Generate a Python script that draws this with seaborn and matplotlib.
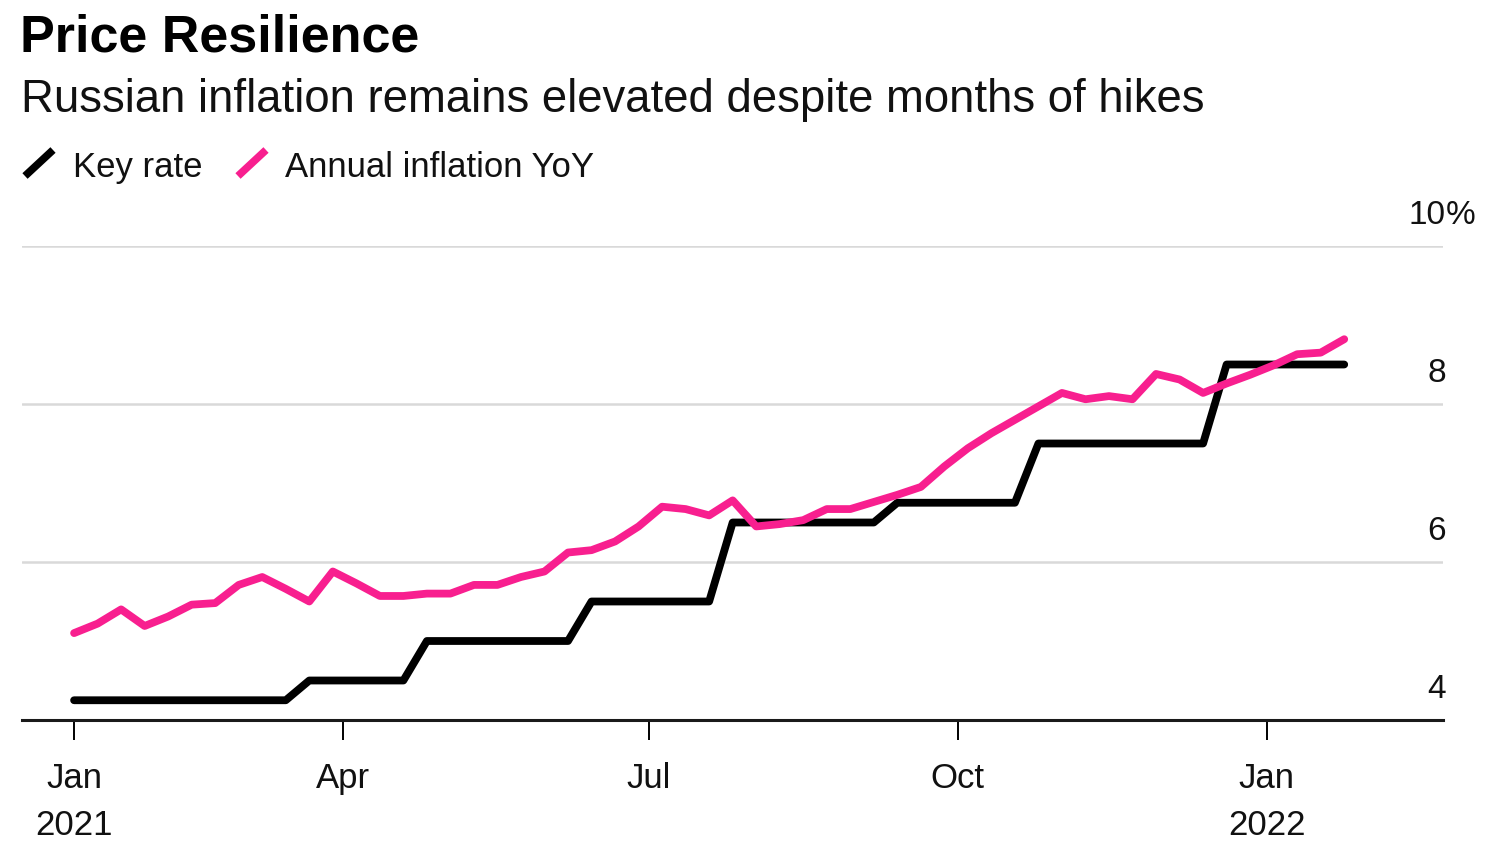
import pandas as pd, numpy as np
import matplotlib
matplotlib.use("Agg")
import matplotlib.pyplot as plt
import matplotlib.transforms as mtransforms
from matplotlib.lines import Line2D
import seaborn as sns

# weekly observations, Jan 2021 -> Jan 2022
dates = pd.date_range("2021-01-11", periods=55, freq="7D")

key_rate = ([4.25] * 10 + [4.5] * 5 + [5.0] * 7 + [5.5] * 6 +
            [6.5] * 7 + [6.75] * 6 + [7.5] * 8 + [8.5] * 6)

inflation = [5.10, 5.22, 5.40, 5.19, 5.31, 5.46, 5.48, 5.71, 5.81, 5.66,
             5.50, 5.88, 5.73, 5.57, 5.57, 5.60, 5.60, 5.71, 5.71, 5.81,
             5.88, 6.12, 6.15, 6.26, 6.45, 6.70, 6.67, 6.59, 6.78, 6.45,
             6.48, 6.53, 6.67, 6.67, 6.76, 6.85, 6.95, 7.21, 7.44, 7.63,
             7.80, 7.97, 8.14, 8.06, 8.10, 8.06, 8.38, 8.31, 8.14, 8.26,
             8.37, 8.49, 8.63, 8.65, 8.82]

series_names = ["Key rate", "Annual inflation YoY"]
yticks = [4, 6, 8, 10]
tick_dates = [dates[0], pd.Timestamp("2021-04-01"), pd.Timestamp("2021-07-01"),
              pd.Timestamp("2021-10-01"), pd.Timestamp("2022-01-01")]
tick_labels = ["Jan\n2021", "Apr", "Jul", "Oct", "Jan\n2022"]

PINK = "#f81f8f"
colors = {"Key rate": "black", "Annual inflation YoY": PINK}

df = pd.DataFrame({
    "date": list(dates) * 2,
    "value": key_rate + inflation,
    "series": [series_names[0]] * len(dates) + [series_names[1]] * len(dates),
})

sns.set_style("white")
plt.rcParams["font.family"] = ["Liberation Sans", "DejaVu Sans"]

fig = plt.figure(figsize=(15, 8.5), dpi=100)
W, H = 1500, 850
ax = fig.add_axes([22 / W, 1 - 720 / H, (1443 - 22) / W, (720 - 246) / H])

sns.lineplot(data=df, x="date", y="value", hue="series", hue_order=series_names,
             palette=colors, linewidth=5.6, legend=False, ax=ax)
for ln in ax.lines:
    ln.set_solid_capstyle("round")
    ln.set_solid_joinstyle("round")

jan1 = pd.Timestamp("2021-01-01")
ax.set_xlim(jan1 - pd.Timedelta(days=5.5), jan1 + pd.Timedelta(days=417.4))
ax.set_ylim(4, 10)

# y grid + labels sitting above the lines
ax.set_yticks(yticks)
ax.yaxis.grid(True, color="#d9d9d9", linewidth=1.8)
ax.xaxis.grid(False)
ax.tick_params(axis="y", length=0, labelleft=False, labelright=False)
blend = mtransforms.blended_transform_factory(ax.transAxes, ax.transData)
for v in yticks:
    ax.annotate(str(v), xy=(1, v), xycoords=blend, xytext=(2, 15.5),
                textcoords="offset points", ha="right", va="baseline",
                fontsize=24, color="#111111", annotation_clip=False)
ax.annotate("%", xy=(1, 10), xycoords=blend, xytext=(2, 15.5),
            textcoords="offset points", ha="left", va="baseline",
            fontsize=24, color="#111111", annotation_clip=False)

ax.set_xticks(tick_dates)
ax.set_xticklabels(tick_labels, fontsize=25, linespacing=1.52)
ax.tick_params(axis="x", bottom=True, direction="out", length=14.5, width=1.4,
               color="black", pad=16, labelcolor="#111111")
ax.set_xlabel(""); ax.set_ylabel("")

for s in ["left", "right", "top"]:
    ax.spines[s].set_visible(False)
ax.spines["bottom"].set_color("#1a1a1a")
ax.spines["bottom"].set_linewidth(2.2)

# titles
fig.text(20 / W, 1 - 52 / H, "Price Resilience", fontsize=37.5, fontweight="bold",
         va="baseline", ha="left", color="black")
fig.text(21 / W, 1 - 112 / H, "Russian inflation remains elevated despite months of hikes",
         fontsize=32.8, va="baseline", ha="left", color="#111111")

# legend
fig.add_artist(Line2D([25 / W, 53 / W], [1 - 176 / H, 1 - 150 / H], color="black",
                      linewidth=5.5, solid_capstyle="butt"))
fig.text(73 / W, 1 - 177 / H, "Key rate", fontsize=25, va="baseline", color="#111111")
fig.add_artist(Line2D([238 / W, 266 / W], [1 - 176 / H, 1 - 150 / H], color=PINK,
                      linewidth=5.5, solid_capstyle="butt"))
fig.text(285 / W, 1 - 177 / H, "Annual inflation YoY", fontsize=25, va="baseline",
         color="#111111")

fig.savefig("out.png", dpi=100, facecolor="white")
